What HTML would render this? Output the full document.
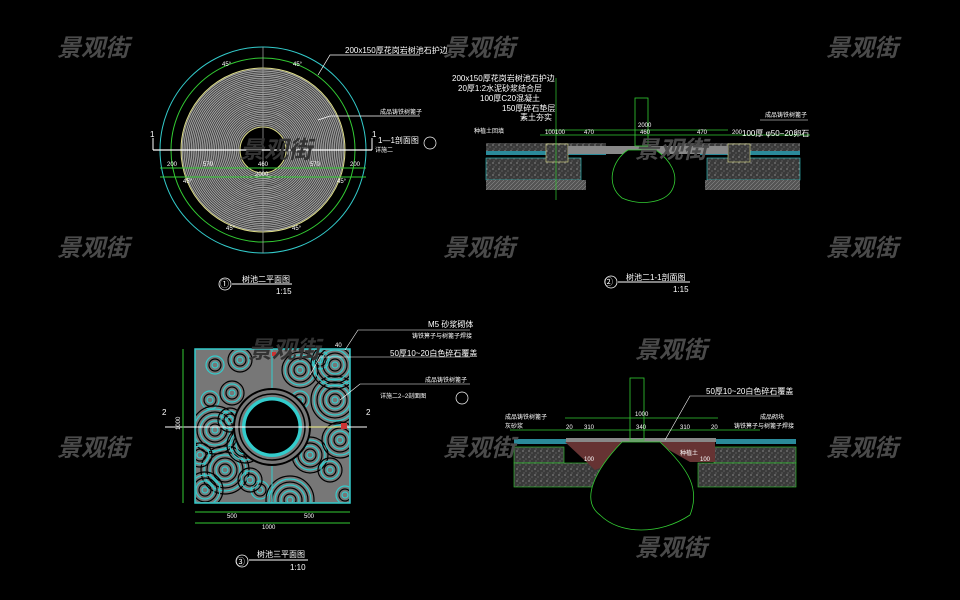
<!DOCTYPE html>
<html><head><meta charset="utf-8"><style>
html,body{margin:0;padding:0;background:#000;width:960px;height:600px;overflow:hidden}
svg{display:block}
text{font-family:"Liberation Sans","Noto Sans CJK SC",sans-serif;fill:#fff}
.wm{font-size:24px;font-weight:bold;font-style:italic;fill:#4a4a4a;font-family:"Noto Sans CJK SC",sans-serif}
.wm2{font-size:24px;font-weight:bold;font-style:italic;fill:#333;font-family:"Noto Sans CJK SC",sans-serif}
.s{font-size:8px}
.sm{font-size:6px}
</style></head><body>
<svg id="s" width="960" height="600" viewBox="0 0 960 600" xmlns="http://www.w3.org/2000/svg">
<defs>
<pattern id="agg" width="6" height="6" patternUnits="userSpaceOnUse"><rect width="6" height="6" fill="#3a3a3a"/><circle cx="1" cy="1" r="0.6" fill="#bbb"/><circle cx="4" cy="3" r="0.5" fill="#999"/><circle cx="2" cy="5" r="0.4" fill="#ccc"/></pattern>
<pattern id="hat" width="4" height="4" patternUnits="userSpaceOnUse"><rect width="4" height="4" fill="#555"/><path d="M0,4 L4,0" stroke="#999" stroke-width="0.5"/></pattern>
</defs>
<g id="p1">
<circle cx="263" cy="150" r="103" fill="none" stroke="#3cc" stroke-width="1"/>
<circle cx="263" cy="150" r="92" fill="none" stroke="#3c3" stroke-width="1"/>
<circle cx="263" cy="150" r="82" fill="#444" stroke="#dd8" stroke-width="1"/>
<g id="rings"></g>
<circle cx="263" cy="150" r="23" fill="#000" stroke="#dd8" stroke-width="1"/>
<line x1="263" y1="47" x2="263" y2="253" stroke="#999" stroke-width="0.8"/>
<line x1="153" y1="150" x2="372" y2="150" stroke="#fff" stroke-width="1.2"/>
<line x1="153" y1="138" x2="153" y2="150" stroke="#fff"/><line x1="372" y1="138" x2="372" y2="150" stroke="#fff"/>
<text x="150" y="137" class="s">1</text><text x="372" y="137" class="s">1</text>
<line x1="160" y1="168" x2="366" y2="168" stroke="#3c3"/>
<line x1="160" y1="177" x2="366" y2="177" stroke="#3c3"/>
<text x="167" y="166" class="sm">200</text><text x="203" y="166" class="sm">570</text><text x="258" y="166" class="sm">460</text><text x="310" y="166" class="sm">570</text><text x="350" y="166" class="sm">200</text>
<text x="255" y="176" class="sm">2000</text>
<text x="222" y="66" class="sm">45°</text><text x="293" y="66" class="sm">45°</text><text x="183" y="183" class="sm">45°</text><text x="337" y="183" class="sm">45°</text><text x="226" y="230" class="sm">45°</text><text x="292" y="230" class="sm">45°</text>
<polyline points="318,75 330,55 420,55" fill="none" stroke="#fff" stroke-width="0.7"/>
<text x="345" y="53" class="s">200x150厚花岗岩树池石护边</text>
<polyline points="318,120 330,116 420,116" fill="none" stroke="#fff" stroke-width="0.7"/>
<text x="380" y="114" class="sm">成品铸铁树篦子</text>
<text x="378" y="143" class="s">1—1剖面图</text><text x="375" y="152" class="sm">详施二</text>
<circle cx="430" cy="143" r="6" fill="none" stroke="#fff" stroke-width="0.7"/>
<text x="220" y="287" class="s" style="font-size:9px">①</text>
<circle cx="225" cy="284" r="6" fill="none" stroke="#fff" stroke-width="0.8"/>
<text x="242" y="282" class="s">树池二平面图</text><line x1="232" y1="284" x2="292" y2="284" stroke="#fff"/>
<text x="276" y="294" class="s">1:15</text>
</g>
<g id="sec1">
<rect x="486" y="143" width="120" height="8" fill="url(#agg)"/>
<rect x="680" y="143" width="120" height="8" fill="url(#agg)"/>
<rect x="486" y="151" width="120" height="4" fill="#2a8a9a"/>
<rect x="700" y="151" width="100" height="4" fill="#2a8a9a"/>
<rect x="486" y="158" width="95" height="22" fill="url(#agg)" stroke="#3cc" stroke-width="0.6"/>
<rect x="707" y="158" width="93" height="22" fill="url(#agg)" stroke="#3cc" stroke-width="0.6"/>
<rect x="486" y="180" width="100" height="10" fill="url(#hat)"/>
<rect x="705" y="180" width="95" height="10" fill="url(#hat)"/>
<rect x="546" y="144" width="22" height="18" fill="url(#agg)" stroke="#dd8" stroke-width="0.6"/>
<rect x="728" y="144" width="22" height="18" fill="url(#agg)" stroke="#dd8" stroke-width="0.6"/>
<rect x="568" y="146" width="160" height="8" fill="#888"/>
<rect x="635" y="98" width="13" height="48" fill="none" stroke="#3c3" stroke-width="0.8"/>
<path d="M628,150 C612,160 605,185 622,198 C640,206 665,203 672,190 C680,175 670,160 656,150 Z" fill="#000" stroke="#3c3" stroke-width="0.8"/>
<line x1="545" y1="130" x2="728" y2="130" stroke="#3c3" stroke-width="0.7"/>
<line x1="540" y1="135" x2="810" y2="135" stroke="#3c3" stroke-width="0.7"/>
<line x1="556" y1="78" x2="556" y2="200" stroke="#3c3" stroke-width="0.7"/>
<text x="452" y="81" class="s">200x150厚花岗岩树池石护边</text>
<text x="458" y="91" class="s">20厚1:2水泥砂浆结合层</text>
<text x="480" y="101" class="s">100厚C20混凝土</text>
<text x="502" y="111" class="s">150厚碎石垫层</text>
<text x="520" y="120" class="s">素土夯实</text>
<text x="474" y="133" class="sm">种植土回填</text>
<text x="545" y="134" class="sm">100100</text><text x="584" y="134" class="sm">470</text><text x="640" y="134" class="sm">460</text><text x="697" y="134" class="sm">470</text><text x="732" y="134" class="sm">200</text>
<text x="638" y="127" class="sm">2000</text>
<text x="742" y="136" class="s">100厚 φ50−20卵石</text>
<text x="765" y="117" class="sm">成品铸铁树篦子</text>
<line x1="760" y1="120" x2="808" y2="120" stroke="#fff" stroke-width="0.6"/>
<text x="604" y="285" class="s" style="font-size:9px">②</text>
<circle cx="611" cy="282" r="6" fill="none" stroke="#fff" stroke-width="0.8"/>
<text x="626" y="280" class="s">树池二1-1剖面图</text><line x1="618" y1="282" x2="690" y2="282" stroke="#fff"/>
<text x="673" y="292" class="s">1:15</text>
</g>
<g id="p3">
<rect x="195" y="349" width="155" height="154" fill="#777" stroke="#3cc" stroke-width="1.5"/>
<g id="sq"></g>
<line x1="272" y1="349" x2="272" y2="503" stroke="#3cc" stroke-width="1"/>
<line x1="195" y1="427" x2="350" y2="427" stroke="#3cc" stroke-width="1"/>
<circle cx="272" cy="427" r="38" fill="#777" stroke="#000" stroke-width="2"/>
<circle cx="272" cy="427" r="33" fill="none" stroke="#000" stroke-width="1.5"/>
<circle cx="272" cy="427" r="30" fill="#3cc"/>
<circle cx="272" cy="427" r="27" fill="#000" stroke="#3cc"/>
<line x1="165" y1="427" x2="367" y2="427" stroke="#fff" stroke-width="1"/>
<line x1="308" y1="427" x2="340" y2="427" stroke="#dd8" stroke-width="1.2"/>
<rect x="341" y="423" width="6" height="6" fill="#c33"/>
<rect x="272" y="352" width="4" height="4" fill="#c33"/>
<line x1="183" y1="349" x2="183" y2="503" stroke="#3c3"/>
<text x="180" y="430" class="sm" transform="rotate(-90 180 430)">1000</text>
<line x1="195" y1="512" x2="350" y2="512" stroke="#3c3"/><line x1="195" y1="523" x2="350" y2="523" stroke="#3c3"/>
<text x="227" y="518" class="sm">500</text><text x="304" y="518" class="sm">500</text><text x="262" y="529" class="sm">1000</text>
<text x="162" y="415" class="s">2</text><text x="366" y="415" class="s">2</text>
<text x="335" y="347" class="sm">40</text>
<polyline points="345,350 358,330 470,330" fill="none" stroke="#fff" stroke-width="0.6"/>
<text x="428" y="327" class="s">M5 砂浆砌体</text><text x="412" y="338" class="sm">铸铁箅子与树篦子焊接</text>
<polyline points="310,375 320,357 470,357" fill="none" stroke="#fff" stroke-width="0.6"/>
<text x="390" y="356" class="s">50厚10~20白色碎石覆盖</text>
<polyline points="340,400 360,384 470,384" fill="none" stroke="#fff" stroke-width="0.6"/>
<text x="425" y="382" class="sm">成品铸铁树篦子</text>
<text x="380" y="398" class="sm">详施二2−2剖面图</text>
<circle cx="462" cy="398" r="6" fill="none" stroke="#fff" stroke-width="0.7"/>
<text x="236" y="565" class="s" style="font-size:9px">③</text>
<circle cx="242" cy="561" r="6" fill="none" stroke="#fff" stroke-width="0.8"/>
<text x="257" y="557" class="s">树池三平面图</text><line x1="249" y1="560" x2="308" y2="560" stroke="#fff"/>
<text x="290" y="570" class="s">1:10</text>
</g>
<g id="sec2">
<rect x="514" y="439" width="100" height="5" fill="#2a8a9a"/>
<rect x="716" y="439" width="80" height="5" fill="#2a8a9a"/>
<rect x="514" y="447" width="50" height="16" fill="url(#agg)" stroke="#3c3" stroke-width="0.6"/>
<rect x="714" y="447" width="82" height="16" fill="url(#agg)" stroke="#3c3" stroke-width="0.6"/>
<rect x="514" y="463" width="100" height="24" fill="url(#agg)" stroke="#3c3" stroke-width="0.6"/>
<rect x="698" y="463" width="98" height="24" fill="url(#agg)" stroke="#3c3" stroke-width="0.6"/>
<path d="M565,442 L625,442 L620,460 L595,470 Z" fill="#633"/>
<path d="M655,442 L715,442 L715,462 L690,462 Z" fill="#633"/>
<rect x="566" y="438" width="150" height="4" fill="#888"/>
<rect x="630" y="378" width="14" height="62" fill="none" stroke="#3c3" stroke-width="0.8"/>
<path d="M622,442 C595,470 580,500 600,515 C620,535 660,535 690,515 C700,490 690,470 660,442 Z" fill="#000" stroke="#3c3" stroke-width="0.8"/>
<line x1="565" y1="418" x2="718" y2="418" stroke="#3c3" stroke-width="0.7"/>
<line x1="510" y1="430" x2="760" y2="430" stroke="#3c3" stroke-width="0.7"/>
<text x="635" y="416" class="sm">1000</text>
<text x="566" y="429" class="sm">20</text><text x="584" y="429" class="sm">310</text><text x="636" y="429" class="sm">340</text><text x="680" y="429" class="sm">310</text><text x="711" y="429" class="sm">20</text>
<text x="706" y="394" class="s">50厚10~20白色碎石覆盖</text>
<polyline points="665,440 690,396 780,396" fill="none" stroke="#fff" stroke-width="0.6"/>
<text x="505" y="419" class="sm">成品铸铁树篦子</text><text x="505" y="428" class="sm">灰砂浆</text>
<text x="760" y="419" class="sm">成品砌块</text><text x="734" y="428" class="sm">铸铁箅子与树篦子焊接</text>
<text x="584" y="461" class="sm">100</text><text x="700" y="461" class="sm">100</text><text x="680" y="455" class="sm">种植土</text>
</g>
<text class="wm" x="57" y="56">景观街</text><text class="wm" x="443" y="56">景观街</text><text class="wm" x="826" y="56">景观街</text>
<text class="wm" x="57" y="256">景观街</text><text class="wm" x="443" y="256">景观街</text><text class="wm" x="826" y="256">景观街</text>
<text class="wm" x="57" y="456">景观街</text><text class="wm" x="443" y="456">景观街</text><text class="wm" x="826" y="456">景观街</text>
<text class="wm" x="635" y="158">景观街</text><text class="wm" x="635" y="358">景观街</text><text class="wm" x="635" y="556">景观街</text>
<text class="wm2" x="240" y="158">景观街</text><text class="wm2" x="248" y="358">景观街</text>
</svg>
<script>
var NS="http://www.w3.org/2000/svg",g=document.getElementById("rings");
for(var r=25;r<81;r+=1.8){var c=document.createElementNS(NS,"circle");c.setAttribute("cx",263);c.setAttribute("cy",150);c.setAttribute("r",r);c.setAttribute("fill","none");c.setAttribute("stroke","#bbb");c.setAttribute("stroke-width","0.7");g.appendChild(c);}
var sq=document.getElementById("sq"),pts=[[215,365],[240,360],[300,370],[335,400],[210,400],[232,393],[310,455],[225,470],[260,490],[330,470],[340,440],[215,430],[320,360],[250,480],[205,490],[290,500],[345,495],[200,455],[245,445],[335,365],[300,400],[230,420]];
var cl=document.createElementNS(NS,"clipPath");cl.id="cp";var rr=document.createElementNS(NS,"rect");rr.setAttribute("x",196);rr.setAttribute("y",350);rr.setAttribute("width",153);rr.setAttribute("height",152);cl.appendChild(rr);sq.appendChild(cl);sq.setAttribute("clip-path","url(#cp)");
pts.forEach(function(p,i){for(var r=3;r<10+(i%4)*5;r+=3){var c=document.createElementNS(NS,"circle");c.setAttribute("cx",p[0]);c.setAttribute("cy",p[1]);c.setAttribute("r",r);c.setAttribute("fill","none");c.setAttribute("stroke",(Math.round(r/3)%2)?"#3cc":"#000");c.setAttribute("stroke-width","1.2");sq.appendChild(c);}});
</script>
</body></html>
